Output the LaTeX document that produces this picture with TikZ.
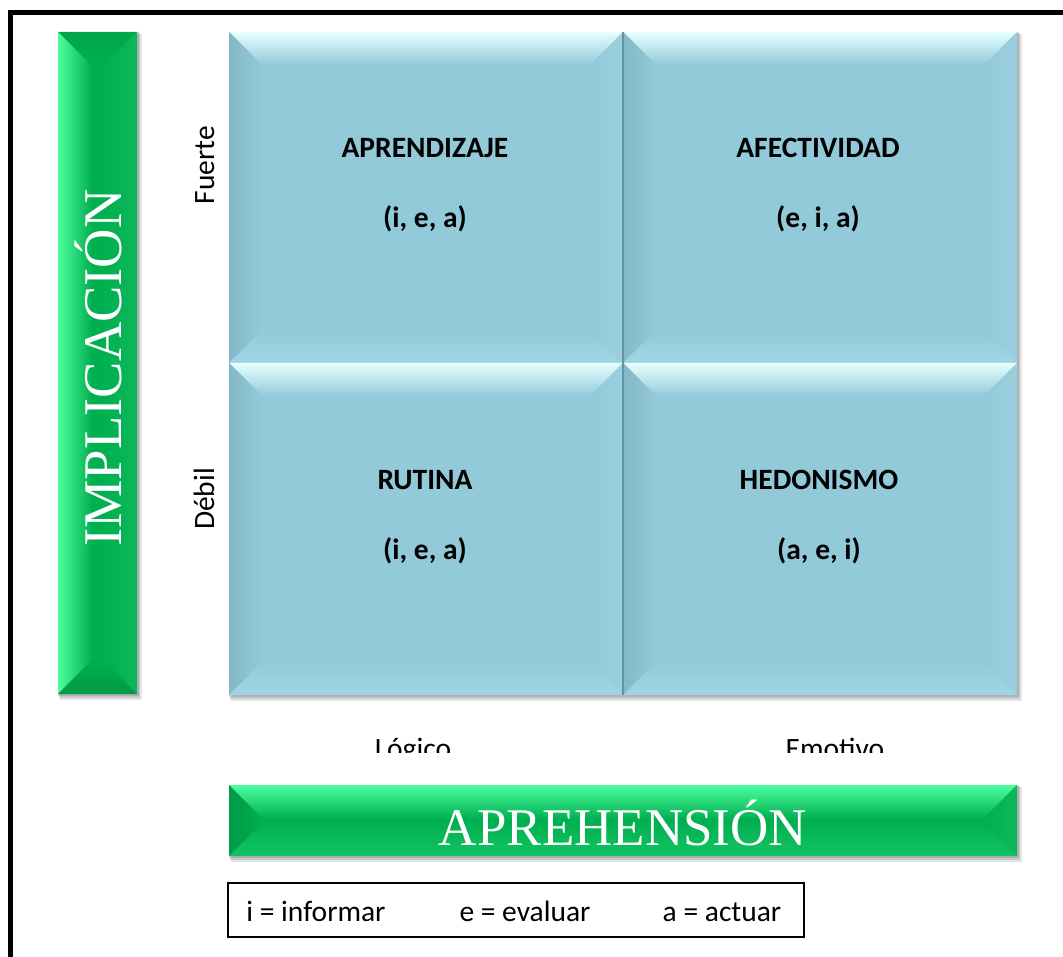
\documentclass[tikz,border=0pt]{standalone}
\usepackage{fontspec}
\setmainfont{Carlito}
\newfontfamily\titlefont{Liberation Serif}
\definecolor{qbase}{HTML}{93CAD9}
\definecolor{qtop}{HTML}{E6FFFF}
\definecolor{qmid}{HTML}{A9DFEA}
\definecolor{qleft}{HTML}{84B8C6}
\definecolor{qright}{HTML}{9AD0DE}
\definecolor{qbot}{HTML}{A0D6E4}
\definecolor{qedge}{HTML}{6296A4}
\definecolor{ghbase}{HTML}{00AF50}
\definecolor{ghtop}{HTML}{4DFF9E}
\definecolor{ghmid}{HTML}{22D572}
\definecolor{ghleft}{HTML}{009A45}
\definecolor{ghright}{HTML}{0BB85C}
\definecolor{ghbot}{HTML}{12C364}
\definecolor{gvbase}{HTML}{00AF50}
\definecolor{gvtop}{HTML}{02A64B}
\definecolor{gvmid}{HTML}{01AA4D}
\definecolor{gvleft}{HTML}{4DFF9E}
\definecolor{gvright}{HTML}{0BB85C}
\definecolor{gvbot}{HTML}{009A45}
\newcommand\bevbox[6]{%
  \fill[#6base] (#1,#2) rectangle (#3,#4);
  \shade[top color=#6top, middle color=#6mid, bottom color=#6base] (#1,#2) -- (#3,#2) -- ({#3-#5},{#2+#5}) -- ({#1+#5},{#2+#5}) -- cycle;
  \shade[left color=#6left, right color=#6base] (#1,#2) -- ({#1+#5},{#2+#5}) -- ({#1+#5},{#4-#5}) -- (#1,#4) -- cycle;
  \shade[left color=#6base, right color=#6right] (#3,#2) -- ({#3-#5},{#2+#5}) -- ({#3-#5},{#4-#5}) -- (#3,#4) -- cycle;
  \shade[top color=#6base, bottom color=#6bot] (#1,#4) -- ({#1+#5},{#4-#5}) -- ({#3-#5},{#4-#5}) -- (#3,#4) -- cycle;
}
\newcommand\softshadow[4]{%
  \fill[black,opacity=0.10] ({#1+2},{#2+2}) rectangle ({#3+5},{#4+6});
  \fill[black,opacity=0.12] ({#1+1},{#2+1}) rectangle ({#3+3},{#4+4});
  \fill[black,opacity=0.12] (#1,#2) rectangle ({#3+1.5},{#4+2});
}
\begin{document}
\begin{tikzpicture}[x=1pt,y=-1pt,
  quadtitle/.style={font=\bfseries\fontsize{29.5}{35}\selectfont, anchor=base, inner sep=0pt},
  quadcode/.style={font=\bfseries\fontsize{29.5}{35}\selectfont, anchor=base, inner sep=0pt},
  sidelbl/.style={font=\fontsize{29.5}{35}\selectfont, anchor=base, inner sep=0pt},
  bigtitle/.style={font=\titlefont\fontsize{53}{60}\selectfont, text=white, anchor=base, inner sep=0pt},
  legendtxt/.style={font=\fontsize{29.5}{35}\selectfont, anchor=base, inner sep=0pt}]
\useasboundingbox (0,0) rectangle (1063,957);
\clip (0,0) rectangle (1063,957);
\fill[white] (0,0) rectangle (1063,957);
% outer frame
\draw[line width=5pt] (10.5,1000) -- (10.5,12.5) -- (1100,12.5);
% shadows
\softshadow{58}{32}{137}{694}
\softshadow{229}{32}{1017}{695}
\softshadow{229}{785}{1017}{856}
% vertical green bar
\bevbox{58}{32}{137}{694}{34}{gv}
% quadrants
\bevbox{229}{32}{623}{363}{33}{q}
\bevbox{623}{32}{1017}{363}{33}{q}
\bevbox{229}{363}{623}{695}{33}{q}
\bevbox{623}{363}{1017}{695}{33}{q}
\fill[qedge] (621.5,32) rectangle (623.5,695);
% horizontal green bar
\bevbox{229}{785}{1017}{856}{34}{gh}
% quadrant texts
\node[quadtitle] (apr) at (425,158) {APRENDIZAJE};
\node[quadcode] (aprc) at (425,228) {(i, e, a)};
\node[quadtitle] (afe) at (818,158) {AFECTIVIDAD};
\node[quadcode] (afec) at (818,228) {(e, i, a)};
\node[quadtitle] (rut) at (425,489) {RUTINA};
\node[quadcode] (rutc) at (425,559) {(i, e, a)};
\node[quadtitle] (hed) at (819,489) {HEDONISMO};
\node[quadcode] (hedc) at (819,559) {(a, e, i)};
% side labels
\node[sidelbl, rotate=90] (fuerte) at (214,165) {Fuerte};
\node[sidelbl, rotate=90] (debil) at (214,499) {Débil};
\begin{scope}
  \clip (0,700) rectangle (1063,752);
  \node[sidelbl] (logico) at (413,758) {Lógico};
  \node[sidelbl] (emotivo) at (835,758) {Emotivo};
\end{scope}
% bar titles
\node[bigtitle, rotate=90, font=\titlefont\fontsize{54.5}{62}\selectfont] (impl) at (121,368) {IMPLICACIÓN};
\node[bigtitle] (apre) at (623,845) {APREHENSIÓN};
% legend
\node[draw, line width=1.2pt, minimum width=576pt, minimum height=54pt, inner sep=0pt] (legend) at (516,910) {};
\node[legendtxt] (li) at (316,921) {i = informar};
\node[legendtxt] (le) at (525,921) {e = evaluar};
\node[legendtxt] (la) at (722,921) {a = actuar};
\end{tikzpicture}
\end{document}
